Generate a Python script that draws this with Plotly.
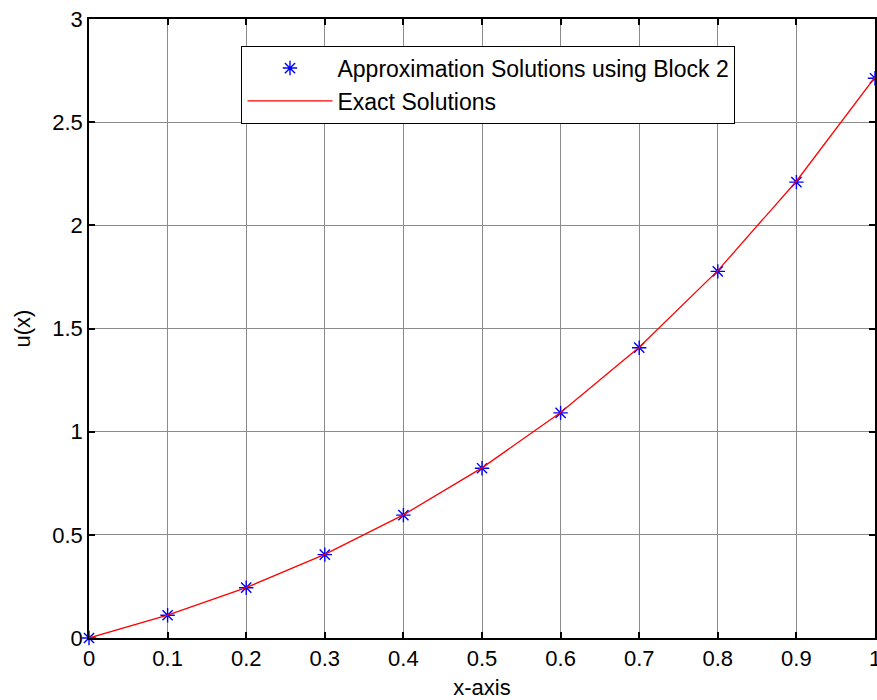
import plotly.graph_objects as go

x_vals = [0, 0.1, 0.2, 0.3, 0.4, 0.5, 0.6, 0.7, 0.8, 0.9, 1.0]
approx_vals = [0.0, 0.1103, 0.2438, 0.4042, 0.5955, 0.8228, 1.0912, 1.4069, 1.7770, 2.2094, 2.7130]
exact_vals = [0.0, 0.1105, 0.2443, 0.4050, 0.5967, 0.8244, 1.0933, 1.4096, 1.7804, 2.2136, 2.7183]
x_ticks = [0, 0.1, 0.2, 0.3, 0.4, 0.5, 0.6, 0.7, 0.8, 0.9, 1]
x_tick_text = ["0", "0.1", "0.2", "0.3", "0.4", "0.5", "0.6", "0.7", "0.8", "0.9", "1"]
y_ticks = [0, 0.5, 1, 1.5, 2, 2.5, 3]
y_tick_text = ["0", "0.5", "1", "1.5", "2", "2.5", "3"]

font_family = "Liberation Sans, Arial, sans-serif"

fig = go.Figure()
fig.add_trace(go.Scatter(
    x=x_vals, y=approx_vals, mode="markers",
    name="Approximation Solutions using Block 2",
    marker=dict(symbol="asterisk-open", size=12, color="blue",
                line=dict(color="blue", width=1.4)),
    cliponaxis=False,
))
fig.add_trace(go.Scatter(
    x=x_vals, y=exact_vals, mode="lines",
    name="Exact Solutions",
    line=dict(color="red", width=1.3),
))

axis_common = dict(
    showgrid=True, gridcolor="#8c8c8c", gridwidth=1,
    showline=True, linecolor="black", linewidth=1.5, mirror="ticks",
    ticks="inside", ticklen=6, tickcolor="black", tickwidth=1.5,
    zeroline=False, ticklabeloverflow="allow", automargin=False,
    tickfont=dict(family=font_family, size=22, color="black"),
)

fig.update_layout(
    width=877, height=700,
    margin=dict(l=89, r=2, t=19, b=62),
    paper_bgcolor="white", plot_bgcolor="white",
    font=dict(family=font_family, size=23, color="black"),
    showlegend=True,
    legend=dict(
        x=0.194, y=0.957, xanchor="left", yanchor="top",
        bgcolor="white", bordercolor="black", borderwidth=1,
        font=dict(family=font_family, size=23, color="black"),
        itemwidth=85, tracegroupgap=0,
    ),
    xaxis=dict(
        range=[0, 1], tickvals=x_ticks, ticktext=x_tick_text,
        title=dict(text="x-axis", font=dict(family=font_family, size=22), standoff=14),
        **axis_common,
    ),
    yaxis=dict(
        range=[0, 3], tickvals=y_ticks, ticktext=y_tick_text,
        title=dict(text="u(x)", font=dict(family=font_family, size=22), standoff=16),
        **axis_common,
    ),
)

fig.write_html("out.html")
